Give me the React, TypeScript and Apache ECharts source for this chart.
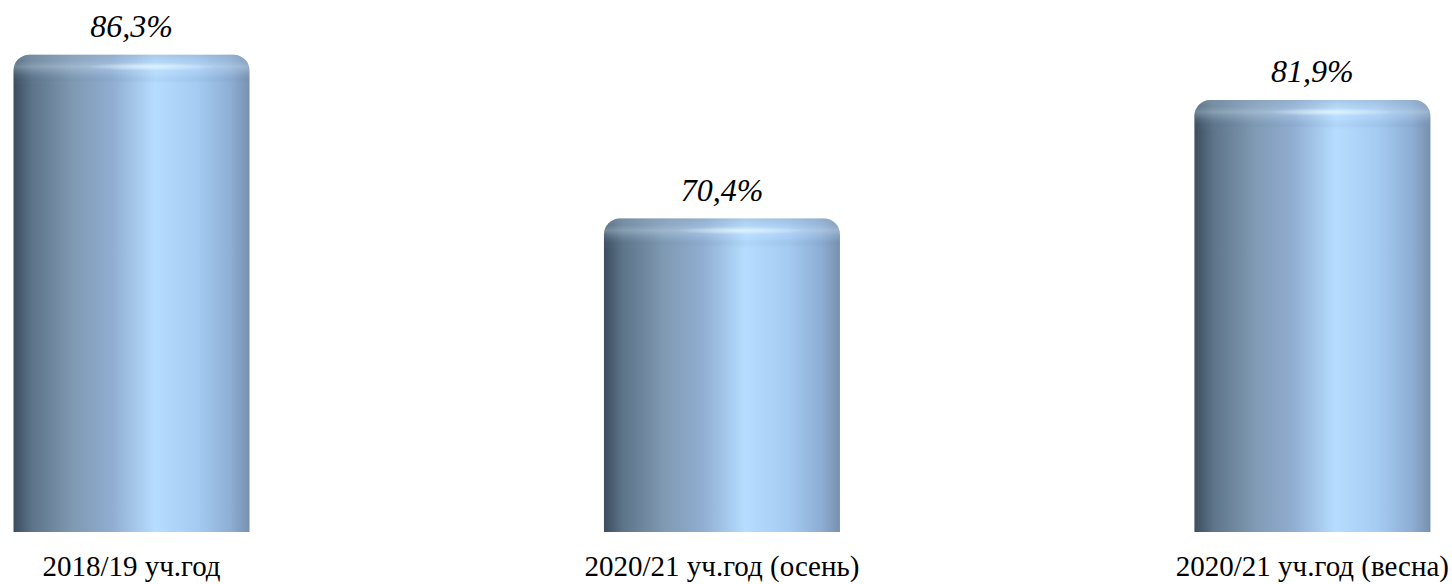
import React, { useEffect, useRef } from "react";
import * as echarts from "echarts";

const categories = ["2018/19 уч.год", "2020/21 уч.год (осень)", "2020/21 уч.год (весна)"];
const values = [86.3, 70.4, 81.9];
const valueLabels = ["86,3%", "70,4%", "81,9%"];
const AXIS_MIN = 40;
const AXIS_MAX = 90;

const BAR_W = 236;

export default function App() {
  const ref = useRef<HTMLDivElement>(null);
  useEffect(() => {
    const chart = echarts.init(ref.current!, null, { renderer: "svg" });
    const bodyStops = [
      { offset: 0, color: "#3c4d5d" },
      { offset: 0.08, color: "#5d7489" },
      { offset: 0.25, color: "#7f99b2" },
      { offset: 0.42, color: "#90aed2" },
      { offset: 0.6, color: "#b6ddff" },
      { offset: 0.78, color: "#a5cbf2" },
      { offset: 0.92, color: "#8eaed4" },
      { offset: 1, color: "#7890ae" },
    ];
    chart.setOption({
      animation: false,
      grid: { left: 131.5, right: 138.5, top: 16.5, bottom: 52 },
      xAxis: {
        type: "category",
        data: categories,
        boundaryGap: false,
        axisLine: { show: false },
        axisTick: { show: false },
        splitLine: { show: false },
        axisLabel: {
          interval: 0,
          margin: 19,
          fontFamily: "Liberation Serif",
          fontSize: 29,
          color: "#000",
        },
      },
      yAxis: { type: "value", min: AXIS_MIN, max: AXIS_MAX, show: false },
      series: [
        {
          type: "custom",
          data: values.map((v, i) => [i, v]),
          clip: false,
          renderItem: (params: any, api: any) => {
            const i = api.value(0);
            const pt = api.coord([i, api.value(1)]);
            const base = api.coord([i, AXIS_MIN]);
            const x0 = pt[0] - BAR_W / 2;
            const top = pt[1];
            const h = base[1] - top;
            return {
              type: "group",
              children: [
                {
                  type: "rect",
                  shape: { x: x0, y: top, width: BAR_W, height: h, r: [16, 16, 0, 0] },
                  style: { fill: new echarts.graphic.LinearGradient(0, 0, 1, 0, bodyStops) },
                },
                {
                  type: "rect",
                  shape: { x: x0, y: top, width: BAR_W, height: 30, r: [16, 16, 0, 0] },
                  style: {
                    fill: new echarts.graphic.LinearGradient(0, 0, 0, 1, [
                      { offset: 0, color: "rgba(150,175,200,0.45)" },
                      { offset: 0.2, color: "rgba(175,200,225,0.3)" },
                      { offset: 0.4, color: "rgba(215,235,252,0.35)" },
                      { offset: 0.65, color: "rgba(190,220,248,0.12)" },
                      { offset: 0.85, color: "rgba(90,120,150,0.08)" },
                      { offset: 1, color: "rgba(150,190,230,0)" },
                    ]),
                  },
                },
                {
                  type: "ellipse",
                  shape: { cx: x0 + BAR_W * 0.58, cy: top + 12, rx: 65, ry: 4 },
                  style: {
                    fill: new echarts.graphic.RadialGradient(0.5, 0.5, 0.5, [
                      { offset: 0, color: "rgba(230,248,255,0.75)" },
                      { offset: 1, color: "rgba(230,248,255,0)" },
                    ]),
                  },
                },
                {
                  type: "text",
                  style: {
                    text: valueLabels[params.dataIndex],
                    x: pt[0],
                    y: top - 13,
                    align: "center",
                    verticalAlign: "bottom",
                    fontFamily: "Liberation Serif",
                    fontStyle: "italic",
                    fontSize: 32,
                    fill: "#000",
                  },
                },
              ],
            };
          },
        },
      ],
    });
    return () => chart.dispose();
  }, []);
  return (
    <div
      ref={ref}
      style={{ position: "fixed", left: 0, top: 0, width: 1452, height: 584, background: "#fff" }}
    />
  );
}
